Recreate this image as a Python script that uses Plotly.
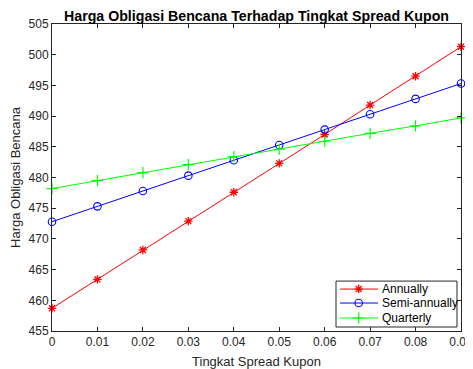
import plotly.graph_objects as go

spread = [0, 0.01, 0.02, 0.03, 0.04, 0.05, 0.06, 0.07, 0.08, 0.09]
annually = [458.7, 463.4, 468.2, 472.9, 477.6, 482.3, 487.0, 491.8, 496.5, 501.3]
semi_annually = [472.8, 475.3, 477.8, 480.3, 482.8, 485.3, 487.8, 490.3, 492.8, 495.3]
quarterly = [478.2, 479.5, 480.8, 482.1, 483.4, 484.6, 485.9, 487.2, 488.4, 489.7]
x_ticks = [0, 0.01, 0.02, 0.03, 0.04, 0.05, 0.06, 0.07, 0.08, 0.09]
x_tick_labels = ["0", "0.01", "0.02", "0.03", "0.04", "0.05", "0.06", "0.07", "0.08", "0.09"]
y_ticks = [455, 460, 465, 470, 475, 480, 485, 490, 495, 500, 505]
series_names = ["Annually", "Semi-annually", "Quarterly"]

colors = ["#FF0000", "#0000FF", "#00FF00"]
symbols = ["asterisk-open", "circle-open", "cross-thin-open"]
sizes = [7, 7.5, 8]
mwidths = [1.3, 1.1, 1.2]

fig = go.Figure()
for vals, name, c, s, sz, mw in zip([annually, semi_annually, quarterly], series_names,
                                    colors, symbols, sizes, mwidths):
    fig.add_trace(go.Scatter(x=spread, y=vals, name=name, mode="lines+markers",
                             showlegend=False, cliponaxis=False,
                             line=dict(color=c, width=1),
                             marker=dict(symbol=s, size=sz, color=c, line=dict(color=c, width=mw))))

# custom compact legend (MATLAB style)
box = dict(x0=0.6944, x1=0.9902, y0=0.013, y1=0.1626)
row_y = [0.1366, 0.0911, 0.0423]
lx0, lx1, mx, tx = 0.7042, 0.7971, 0.7499, 0.8020
fig.add_shape(type="rect", xref="x domain", yref="y domain", x0=box["x0"], x1=box["x1"],
              y0=box["y0"], y1=box["y1"], line=dict(color="#262626", width=1), fillcolor="white",
              layer="below")
for name, c, s, sz, mw, ry in zip(series_names, colors, symbols, sizes, mwidths, row_y):
    fig.add_shape(type="line", xref="x domain", yref="y domain", x0=lx0, x1=lx1, y0=ry, y1=ry,
                  line=dict(color=c, width=1), layer="above")
    fig.add_annotation(xref="x domain", yref="y domain", x=tx, y=ry, text=name, showarrow=False,
                       xanchor="left", yanchor="middle", font=dict(size=12, color="#000000"))
    fig.add_trace(go.Scatter(x=[mx], y=[ry], xaxis="x2", yaxis="y2", mode="markers",
                             showlegend=False, hoverinfo="skip", cliponaxis=False,
                             marker=dict(symbol=s, size=sz, color=c, line=dict(color=c, width=mw))))

axis_common = dict(showline=True, linecolor="#262626", linewidth=1, mirror="ticks",
                   ticks="inside", ticklen=4, tickcolor="#262626", showgrid=False,
                   zeroline=False, automargin=False, ticklabeloverflow="allow",
                   tickfont=dict(size=12, color="#262626"))

# The page body has an 8px default margin, so the figure is offset by 8px.
fig.update_layout(
    width=465, height=361,
    paper_bgcolor="white", plot_bgcolor="white",
    font=dict(family="Liberation Sans, Arial, sans-serif", color="#262626"),
    margin=dict(l=44, r=12, t=15.5, b=38),
    title=dict(text="<b>Harga Obligasi Bencana Terhadap Tingkat Spread Kupon</b>",
               x=0.5344, xanchor="center", y=0.978, yanchor="middle",
               font=dict(size=14.2, color="#000000")),
    xaxis=dict(range=[0, 0.09], tickvals=x_ticks, ticktext=x_tick_labels,
               title=dict(text="Tingkat Spread Kupon", font=dict(size=13, color="#262626"), standoff=8),
               **axis_common),
    yaxis=dict(range=[455, 505], tickvals=y_ticks,
               title=dict(text="Harga Obligasi Bencana", font=dict(size=13, color="#262626"), standoff=11),
               **axis_common),
    xaxis2=dict(range=[0, 1], overlaying="x", visible=False, fixedrange=True),
    yaxis2=dict(range=[0, 1], overlaying="y", visible=False, fixedrange=True),
    showlegend=False,
)

fig.write_html("out.html")
